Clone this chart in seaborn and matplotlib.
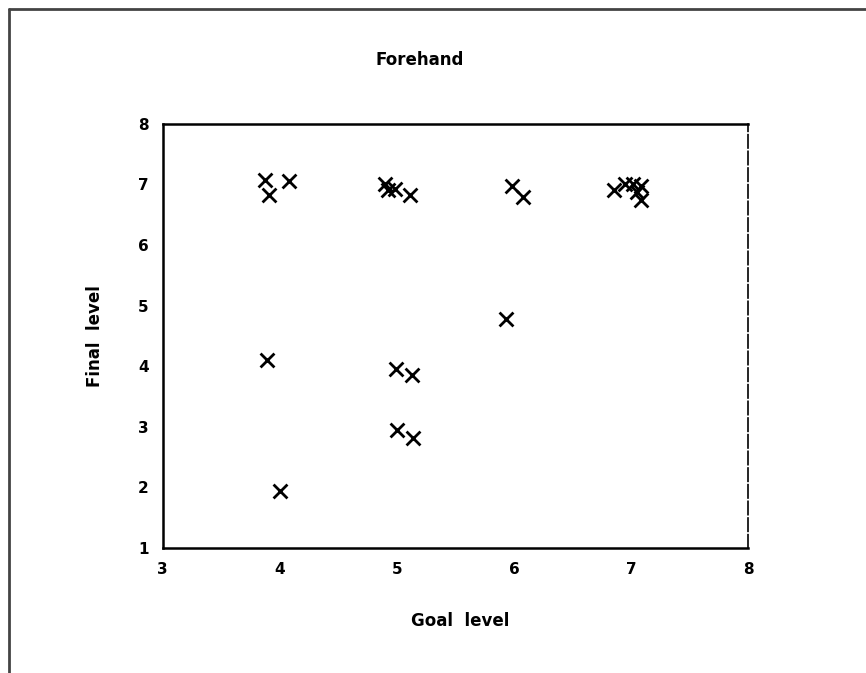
import matplotlib
matplotlib.use("Agg")
import matplotlib.pyplot as plt
from matplotlib.lines import Line2D
import seaborn as sns
import pandas as pd

# goal level vs final level
goal_level = [3.87, 4.08, 3.91, 4.90, 4.92, 4.98, 5.11, 5.98, 6.08, 6.85,
              6.95, 7.02, 7.08, 7.05, 7.08, 5.93, 3.89, 4.99, 5.13, 5.00,
              5.14, 4.00]
final_level = [7.07, 7.05, 6.83, 7.00, 6.90, 6.93, 6.83, 6.97, 6.80, 6.90,
               7.00, 7.00, 6.98, 6.88, 6.75, 4.77, 4.10, 3.95, 3.85, 2.95,
               2.82, 1.94]
x_ticks = [3, 4, 5, 6, 7, 8]
y_ticks = [1, 2, 3, 4, 5, 6, 7, 8]

df = pd.DataFrame({"goal": goal_level, "final": final_level})

sns.set_style("white")
plt.rcParams["font.family"] = ["DejaVu Sans"]
plt.rcParams["text.color"] = "black"

fig = plt.figure(figsize=(8.66, 6.73), dpi=100)
ax = fig.add_axes([0.188, 0.186, 0.676, 0.630])

sns.scatterplot(data=df, x="goal", y="final", marker="x", color="black",
                s=100, linewidth=2, ax=ax, legend=False)

ax.set_xlim(3, 8)
ax.set_ylim(1, 8)
ax.set_xticks(x_ticks)
ax.set_yticks(y_ticks)
ax.set_xticklabels([str(t) for t in x_ticks], fontweight="bold", fontsize=11)
ax.set_yticklabels([str(t) for t in y_ticks], fontweight="bold", fontsize=11)
ax.tick_params(direction="out", length=4, width=1.5, colors="black", pad=6)
for sp in ax.spines.values():
    sp.set_color("black")
    sp.set_linewidth(1.8)
ax.spines["right"].set_linestyle((0, (8, 2)))
ax.spines["right"].set_linewidth(1.2)
ax.set_xlabel("")
ax.set_ylabel("")

fig.text(0.485, 0.911, "Forehand", ha="center", va="center",
         fontsize=12, fontweight="bold", color="black")
fig.text(0.531, 0.078, "Goal  level", ha="center", va="center",
         fontsize=12, fontweight="bold", color="black")
fig.text(0.110, 0.500, "Final  level", ha="center", va="center",
         rotation=90, fontsize=12, fontweight="bold", color="black")

# scanned page frame
fig.add_artist(Line2D([0.010, 0.010], [0.0, 0.987], color="#444444", lw=2,
                      transform=fig.transFigure))
fig.add_artist(Line2D([0.010, 1.0], [0.987, 0.987], color="#444444", lw=2,
                      transform=fig.transFigure))

fig.savefig("out.png", dpi=100)
